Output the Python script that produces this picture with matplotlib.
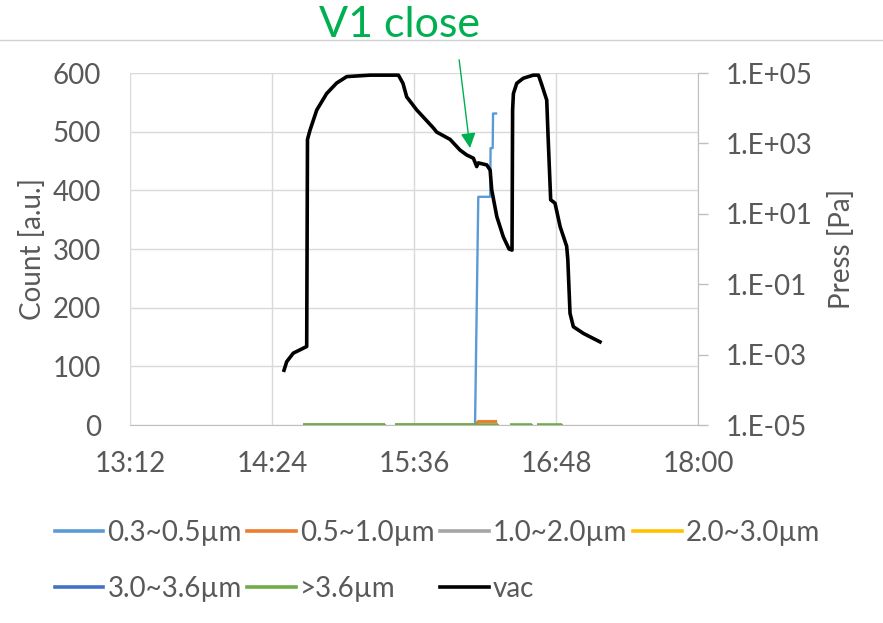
"""Particle counts and chamber pressure during a vent/pump cycle (V1 close)."""

import matplotlib
matplotlib.use("Agg")
import matplotlib.pyplot as plt
import numpy as np
import pandas as pd
from matplotlib.lines import Line2D
from matplotlib.ticker import FixedLocator, FuncFormatter

# ---------------------------------------------------------------------------
# Data
# ---------------------------------------------------------------------------
PARTICLE_TIME = [
    "14:39:54", "15:21:18", "15:24:00", "15:26:24", "16:06:57", "16:08:36",
    "16:14:36", "16:14:50", "16:15:54", "16:16:05", "16:18:12", "16:18:48",
    "16:21:00", "16:24:42", "16:35:42", "16:37:00", "16:38:12", "16:50:54",
]
nan = np.nan
COUNT_03_05 = [0, 0, nan, 0, 0, 389, 389, 472, 472, 531, 531, nan,
               nan, nan, nan, nan, nan, nan]
COUNT_05_10 = [0, 0, nan, 0, 0, 6, 6, 6, 6, 6, 6, nan,
               nan, nan, nan, nan, nan, nan]
COUNT_10_20 = [0, 0, nan, 0, 0, 0, 0, 0, 0, 0, 0, 0,
               nan, 0, 0, nan, 0, 0]
COUNT_20_30 = [0, 0, nan, 0, 0, 0, 0, 0, 0, 0, 0, 0,
               nan, 0, 0, nan, 0, 0]
COUNT_30_36 = [0, 0, nan, 0, 0, 0, 0, 0, 0, 0, 0, 0,
               nan, 0, 0, nan, 0, 0]
COUNT_OVER_36 = [0, 0, nan, 0, 0, 0, 0, 0, 0, 0, 0, 0,
                 nan, 0, 0, nan, 0, 0]

VAC_TIME = [
    "14:30:06", "14:31:28", "14:34:48", "14:41:36", "14:42:00", "14:43:18",
    "14:46:42", "14:51:42", "14:56:48", "15:01:54", "15:13:42", "15:28:06",
    "15:30:24", "15:32:18", "15:37:24", "15:45:42", "15:47:30", "15:54:18",
    "15:59:18", "16:02:42", "16:06:06", "16:07:48", "16:08:36", "16:12:54",
    "16:14:36", "16:15:24", "16:18:00", "16:21:18", "16:24:12", "16:25:42",
    "16:26:00", "16:26:24", "16:28:06", "16:31:24", "16:36:30", "16:39:06",
    "16:40:48", "16:43:18", "16:44:00", "16:45:18", "16:47:30", "16:50:06",
    "16:53:24", "16:54:00", "16:55:06", "16:56:48", "17:01:54", "17:10:18",
]
VAC_PRESSURE = [
    3.6e-4, 6.3e-4, 1.1e-3, 1.7e-3, 1.3e3, 2.4e3,
    8.9e3, 2.6e4, 5.2e4, 7.9e4, 8.7e4, 8.7e4,
    5.1e4, 2.1e4, 8.9e3, 2.8e3, 2.1e3, 1.3e3,
    650, 470, 380, 220, 280, 245,
    175, 48, 8.3, 2.2, 1.0, 0.93,
    8.9e3, 2.6e4, 5.1e4, 7.1e4, 8.7e4, 8.7e4,
    4.6e4, 1.7e4, 1.5e3, 25, 20, 4.3,
    1.2, 0.49, 0.015, 6.2e-3, 4.0e-3, 2.3e-3,
]

SERIES_LABELS = ["0.3~0.5µm", "0.5~1.0µm", "1.0~2.0µm", "2.0~3.0µm",
                 "3.0~3.6µm", ">3.6µm"]
X_TICKS = ["13:12", "14:24", "15:36", "16:48", "18:00"]
COUNT_TICKS = [0, 100, 200, 300, 400, 500, 600]
PRESS_TICKS = [1e-5, 1e-3, 1e-1, 1e1, 1e3, 1e5]
PRESS_TICK_LABELS = ["1.E-05", "1.E-03", "1.E-01", "1.E+01", "1.E+03", "1.E+05"]

ANNOTATION_TIME = "16:04:24"
ANNOTATION_PRESSURE = 740

# ---------------------------------------------------------------------------
# Style
# ---------------------------------------------------------------------------
SERIES_COLORS = ["#5B9BD5", "#ED7D31", "#A5A5A5", "#FFC000", "#4472C4", "#70AD47"]
TEXT_COLOR = "#595959"
GRID_COLOR = "#D9D9D9"
NOTE_COLOR = "#00B050"
FONT = ["Lato", "DejaVu Sans"]
SIZE = 20

plt.rcParams["font.family"] = FONT


def to_minutes(clock_strings):
    """Convert HH:MM:SS strings to minutes since midnight."""
    return pd.to_timedelta(pd.Series(clock_strings)).dt.total_seconds().to_numpy() / 60.0


def clock_label(value, _position):
    hours, minutes = divmod(int(round(value)), 60)
    return f"{hours}:{minutes:02d}"


def main() -> None:
    particle_t = to_minutes(PARTICLE_TIME)
    vac_t = to_minutes(VAC_TIME)
    x_ticks = to_minutes([t + ":00" for t in X_TICKS])

    figure = plt.figure(figsize=(8.83, 6.23), dpi=100)
    axis = figure.add_axes([0.1472, 0.3178, 0.6433, 0.565])
    axis_right = axis.twinx()

    series = [COUNT_03_05, COUNT_05_10, COUNT_10_20, COUNT_20_30,
              COUNT_30_36, COUNT_OVER_36]
    widths = [1.7, 2.2, 2.2, 2.2, 2.2, 2.6]
    handles = []
    for values, label, color, width in zip(series, SERIES_LABELS, SERIES_COLORS, widths):
        axis.plot(particle_t, values, color=color, linewidth=width,
                  solid_capstyle="butt", zorder=3)
        handles.append(Line2D([0], [0], color=color, linewidth=2.6, label=label))

    axis_right.plot(vac_t, VAC_PRESSURE, color="black", linewidth=2.6,
                    solid_joinstyle="round", zorder=3)
    handles.append(Line2D([0], [0], color="black", linewidth=2.6, label="vac"))

    # Left axis: counts
    axis.set_xlim(x_ticks[0], x_ticks[-1])
    axis.set_ylim(0, 600)
    axis.xaxis.set_major_locator(FixedLocator(x_ticks))
    axis.xaxis.set_major_formatter(FuncFormatter(clock_label))
    axis.set_yticks(COUNT_TICKS)
    axis.grid(True, color=GRID_COLOR, linewidth=1.0, zorder=0)
    axis.set_axisbelow(True)
    axis.tick_params(axis="y", length=0, pad=21, labelsize=SIZE, labelcolor=TEXT_COLOR)
    axis.tick_params(axis="x", length=0, pad=19, labelsize=SIZE, labelcolor=TEXT_COLOR)
    axis.set_ylabel("Count [a.u.]", fontsize=SIZE, color=TEXT_COLOR)
    axis.yaxis.set_label_coords(-0.148, 0.5)

    # Right axis: pressure (log)
    axis_right.set_yscale("log")
    axis_right.set_ylim(1e-5, 1e5)
    axis_right.yaxis.set_major_locator(FixedLocator(PRESS_TICKS))
    axis_right.set_yticklabels(PRESS_TICK_LABELS)
    axis_right.yaxis.set_minor_locator(FixedLocator([]))
    axis_right.tick_params(axis="y", length=7, width=1.0, color="#BFBFBF", pad=13,
                           labelsize=SIZE, labelcolor=TEXT_COLOR)
    axis_right.set_ylabel("Press [Pa]", fontsize=SIZE, color=TEXT_COLOR)
    axis_right.yaxis.set_label_coords(1.228, 0.5)

    for ax in (axis, axis_right):
        for side in ("top", "left", "right", "bottom"):
            ax.spines[side].set_visible(False)
    axis_right.spines["right"].set_visible(True)
    axis_right.spines["right"].set_color("#BFBFBF")
    axis.spines["bottom"].set_visible(True)
    axis.spines["bottom"].set_color("#BFBFBF")

    # Annotation: V1 close
    figure.add_artist(Line2D([0, 1], [0.936, 0.936], transform=figure.transFigure,
                             color="#D0D0D0", linewidth=1.0))
    figure.text(0.452, 0.9405, "V1 close", fontsize=31, color=NOTE_COLOR,
                ha="center", va="baseline")
    tip_t = to_minutes([ANNOTATION_TIME])[0]
    axis_right.annotate(
        "", xy=(tip_t, ANNOTATION_PRESSURE), xycoords="data",
        xytext=(0.520, 0.904), textcoords="figure fraction",
        arrowprops=dict(arrowstyle="-|>,head_length=0.9,head_width=0.45",
                        color=NOTE_COLOR, linewidth=1.0, shrinkA=0, shrinkB=0),
        annotation_clip=False, zorder=6,
    )

    # Legend, laid out row-wise like the original
    order = [0, 4, 1, 5, 2, 6, 3]
    figure.legend(handles=[handles[i] for i in order], ncol=4,
                  loc="upper left", bbox_to_anchor=(0.062, 0.166),
                  frameon=False, fontsize=SIZE, labelcolor=TEXT_COLOR,
                  handlelength=1.75, handletextpad=0.15, columnspacing=0.2,
                  labelspacing=1.1, borderaxespad=0, borderpad=0)

    figure.savefig("out.png", dpi=100, facecolor="white")
    plt.close(figure)


if __name__ == "__main__":
    main()
